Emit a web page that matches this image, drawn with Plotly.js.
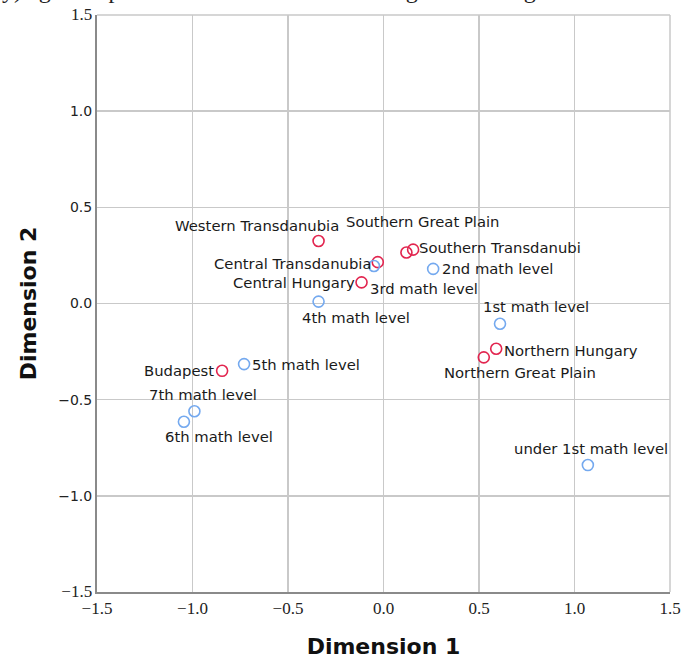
<!DOCTYPE html>
<html>
<head>
<meta charset="utf-8">
<script src="https://cdn.plot.ly/plotly-3.0.1.min.js"></script>
<style>html,body{margin:0;padding:0;background:#fff;overflow:hidden}</style>
</head>
<body>
<div id="chart" style="width:682px;height:659px"></div>
<script>
// Row points (regions)
const regionLabels = ["Western Transdanubia", "Southern Great Plain", "Southern Transdanubi", "Central Transdanubia", "Central Hungary", "Northern Hungary", "Northern Great Plain", "Budapest"];
const regionDim1 = [-0.34, 0.12, 0.155, -0.03, -0.115, 0.59, 0.525, -0.845];
const regionDim2 = [0.325, 0.265, 0.28, 0.215, 0.11, -0.235, -0.28, -0.35];

// Column points (math levels)
const levelLabels = ["under 1st math level", "1st math level", "2nd math level", "3rd math level", "4th math level", "5th math level", "6th math level", "7th math level"];
const levelDim1 = [1.07, 0.61, 0.26, -0.05, -0.34, -0.73, -1.045, -0.99];
const levelDim2 = [-0.84, -0.105, 0.18, 0.195, 0.01, -0.315, -0.615, -0.56];

// Axis ticks
const tickVals = [-1.5, -1.0, -0.5, 0.0, 0.5, 1.0, 1.5];
const tickLabels = ["−1.5", "−1.0", "−0.5", "0.0", "0.5", "1.0", "1.5"];

// label placement (anchor, dx, dy in pixels)
const regionPlace = [["center",-62,-15],["center",17,-31],["left",4,-2],["right",-5,1],["right",-5,0],["left",6,2],["center",36,15],["right",-6,0]];
const levelPlace = [["center",3,-17],["center",36,-17],["left",7,0],["center",50,22],["center",37,16],["left",6,0],["center",35,15],["center",9,-17]];

const RED = "#e2254f", BLUE = "#74a9ef";
const labelFont = {family: "DejaVu Sans", size: 14.8, color: "#1a1a1a"};

function makeAnn(xs, ys, labels, place) {
  return labels.map((t, i) => ({
    x: xs[i], y: ys[i], xref: "x", yref: "y", text: t, showarrow: false,
    xanchor: place[i][0], yanchor: "middle", xshift: place[i][1], yshift: -place[i][2],
    font: labelFont
  }));
}

const serif = s => '<span style="font-family:\'Liberation Serif\';font-size:17px">' + s + '</span>';
const yTickText = tickLabels.map((s, i) => (i === 0 || i === tickLabels.length - 1) ? serif(s) : s);

const traces = [
  {x: regionDim1, y: regionDim2, text: regionLabels, type: "scatter", mode: "markers", name: "Region",
   marker: {symbol: "circle-open", size: 11, color: RED, line: {width: 1.6, color: RED}}, cliponaxis: false},
  {x: levelDim1, y: levelDim2, text: levelLabels, type: "scatter", mode: "markers", name: "Math level",
   marker: {symbol: "circle-open", size: 11, color: BLUE, line: {width: 1.6, color: BLUE}}, cliponaxis: false}
];

const annotations = makeAnn(regionDim1, regionDim2, regionLabels, regionPlace)
  .concat(makeAnn(levelDim1, levelDim2, levelLabels, levelPlace));

annotations.push({
  xref: "paper", yref: "paper", x: -0.17, y: 1.044, xanchor: "left", yanchor: "middle",
  text: "y) age compared to the national and the regional average", showarrow: false,
  font: {family: "Liberation Serif", size: 24, color: "#222"}
});

const layout = {
  width: 682, height: 659,
  margin: {l: 97, r: 12, t: 15, b: 67},
  paper_bgcolor: "#fff", plot_bgcolor: "#fff",
  showlegend: false,
  xaxis: {
    range: [-1.5, 1.5], tickvals: tickVals, ticktext: tickLabels,
    showgrid: true, gridcolor: "#c9c9c9", gridwidth: 1.5, zeroline: false,
    showline: true, linecolor: "#8a8a8a", linewidth: 2, mirror: false, ticks: "",
    tickfont: {family: "Liberation Serif", size: 17, color: "#222"},
    title: {text: "<b>Dimension 1</b>", font: {family: "DejaVu Sans", size: 22, color: "#111"}, standoff: 26}
  },
  yaxis: {
    range: [-1.5, 1.5], tickvals: tickVals, ticktext: yTickText,
    showgrid: true, gridcolor: "#c9c9c9", gridwidth: 1.5, zeroline: false,
    showline: true, linecolor: "#8a8a8a", linewidth: 2, ticks: "",
    tickfont: {family: "DejaVu Sans", size: 14, color: "#222"},
    title: {text: "<b>Dimension 2</b>", font: {family: "DejaVu Sans", size: 22, color: "#111"}, standoff: 16}
  },
  shapes: [
    {type: "line", xref: "paper", yref: "paper", x0: 0, x1: 1, y0: 1, y1: 1, line: {color: "#c9c9c9", width: 1.5}},
    {type: "line", xref: "paper", yref: "paper", x0: 1, x1: 1, y0: 0, y1: 1, line: {color: "#c9c9c9", width: 1.5}}
  ],
  annotations: annotations
};

Plotly.newPlot("chart", traces, layout, {displayModeBar: false, staticPlot: true});
</script>
</body>
</html>
